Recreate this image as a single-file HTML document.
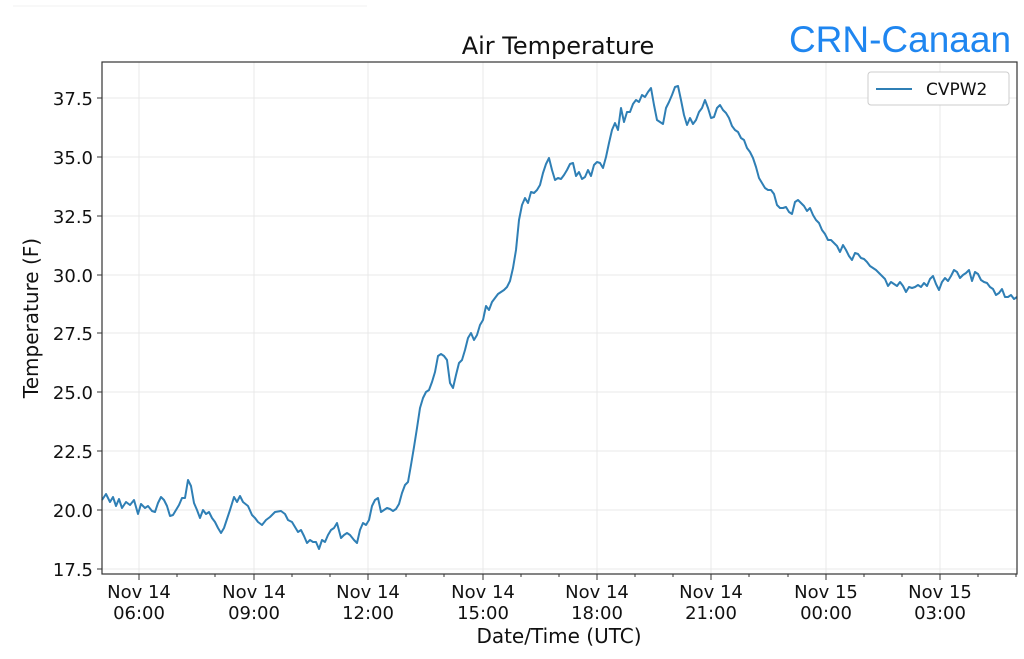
<!DOCTYPE html>
<html><head><meta charset="utf-8"><style>
html,body{margin:0;padding:0;background:#fff;}
svg text{font-family:"DejaVu Sans","Liberation Sans",sans-serif;}
</style></head><body>
<svg width="1024" height="654" viewBox="0 0 1024 654" xmlns="http://www.w3.org/2000/svg">
<line x1="13" y1="6" x2="367" y2="6" stroke="#f0f0f0" stroke-width="1"/>
<text x="558" y="54" font-size="24" text-anchor="middle" fill="#111">Air Temperature</text>
<text x="900" y="52" font-size="37" text-anchor="middle" fill="#1f86f0" style="font-family:'Liberation Sans',sans-serif">CRN-Canaan</text>
<g stroke="#e8e8e8" stroke-width="1">
<line x1="102" y1="569" x2="1017" y2="569"/><line x1="102" y1="510" x2="1017" y2="510"/><line x1="102" y1="451" x2="1017" y2="451"/><line x1="102" y1="392" x2="1017" y2="392"/><line x1="102" y1="333" x2="1017" y2="333"/><line x1="102" y1="275" x2="1017" y2="275"/><line x1="102" y1="216" x2="1017" y2="216"/><line x1="102" y1="157" x2="1017" y2="157"/><line x1="102" y1="98" x2="1017" y2="98"/>
<line x1="139" y1="62" x2="139" y2="574"/><line x1="254" y1="62" x2="254" y2="574"/><line x1="368" y1="62" x2="368" y2="574"/><line x1="483" y1="62" x2="483" y2="574"/><line x1="597" y1="62" x2="597" y2="574"/><line x1="711" y1="62" x2="711" y2="574"/><line x1="826" y1="62" x2="826" y2="574"/><line x1="940" y1="62" x2="940" y2="574"/>
</g>
<polyline fill="none" stroke="#2f7fb5" stroke-width="2" stroke-linejoin="round" points="102,500 106,494 110,502 113,497 116,506 119,499 122,508 126,502 130,505 134,500 138,514 141,504 145,508 148,506 152,511 155,512 158,503 161,497 164,500 167,506 170,516 173,515 176,510 179,505 182,498 185,498 188,480 191,486 194,503 197,510 200,518 203,510 206,514 209,512 212,518 215,522 218,528 221,533 224,528 230,510 234,497 237,502 240,496 243,502 248,506 252,515 255,518 258,522 262,525 266,520 270,517 275,512 281,511 285,514 288,520 292,522 295,527 298,532 301,530 304,536 307,543 310,540 313,542 316,542 319,549 322,540 325,542 328,535 331,530 334,528 337,523 341,538 344,535 347,533 350,535 354,540 357,543 360,530 363,523 366,525 369,520 372,506 375,500 378,498 381,512 384,510 387,508 390,509 393,511 396,509 399,504 402,493 405,485 408,482 411,465 414,447 417,428 420,408 423,398 426,392 429,390 432,382 435,372 438,356 441,354 444,356 447,360 450,383 453,388 456,375 459,363 462,360 465,350 468,338 471,333 474,340 477,335 480,325 483,320 486,306 489,310 492,302 495,298 498,294 501,292 504,290 507,287 510,281 513,268 516,250 519,220 522,205 525,198 528,203 531,192 534,193 537,190 540,185 543,173 546,164 549,158 552,170 555,180 558,178 561,179 564,175 567,170 570,164 573,163 576,176 579,172 582,179 585,177 588,170 591,176 594,165 597,162 600,163 603,168 606,157 609,143 612,130 615,123 618,130 621,108 624,122 627,112 630,112 633,104 636,100 639,102 642,95 645,97 648,92 651,88 654,105 657,120 660,122 663,124 666,108 669,102 672,95 675,87 678,86 681,100 684,115 687,125 690,118 693,124 696,120 699,112 702,108 705,100 708,108 711,118 714,117 717,108 720,105 723,110 726,113 729,118 732,126 735,130 738,132 741,138 744,140 747,148 750,152 753,158 756,167 759,178 762,183 765,188 768,190 771,190 774,194 777,205 780,208 783,208 786,207 789,212 792,214 795,202 798,200 801,203 804,206 807,211 810,208 813,215 816,220 819,223 822,230 825,234 828,240 831,240 834,243 837,246 840,252 843,245 846,250 849,256 852,260 855,253 858,254 861,258 864,259 867,262 870,266 873,268 876,270 879,273 882,276 885,279 888,286 891,282 894,284 897,286 900,282 903,286 906,292 909,287 912,288 915,287 918,285 921,287 924,283 927,286 930,279 933,276 936,284 939,290 942,282 945,278 948,281 951,276 954,270 957,272 960,278 963,275 966,273 969,270 972,281 975,272 978,274 981,280 984,282 987,283 990,287 993,289 996,295 999,293 1002,289 1005,297 1008,297 1011,295 1014,299 1017,297"/>
<rect x="102" y="62" width="915" height="512" fill="none" stroke="#333" stroke-width="1.2"/>
<g stroke="#333" stroke-width="1">
<line x1="97" y1="569" x2="102" y2="569"/><line x1="97" y1="510" x2="102" y2="510"/><line x1="97" y1="451" x2="102" y2="451"/><line x1="97" y1="392" x2="102" y2="392"/><line x1="97" y1="333" x2="102" y2="333"/><line x1="97" y1="275" x2="102" y2="275"/><line x1="97" y1="216" x2="102" y2="216"/><line x1="97" y1="157" x2="102" y2="157"/><line x1="97" y1="98" x2="102" y2="98"/>
<line x1="139" y1="574" x2="139" y2="580"/><line x1="254" y1="574" x2="254" y2="580"/><line x1="368" y1="574" x2="368" y2="580"/><line x1="483" y1="574" x2="483" y2="580"/><line x1="597" y1="574" x2="597" y2="580"/><line x1="711" y1="574" x2="711" y2="580"/><line x1="826" y1="574" x2="826" y2="580"/><line x1="940" y1="574" x2="940" y2="580"/>
<line x1="177" y1="574" x2="177" y2="577"/><line x1="215" y1="574" x2="215" y2="577"/><line x1="292" y1="574" x2="292" y2="577"/><line x1="330" y1="574" x2="330" y2="577"/><line x1="406" y1="574" x2="406" y2="577"/><line x1="444" y1="574" x2="444" y2="577"/><line x1="521" y1="574" x2="521" y2="577"/><line x1="559" y1="574" x2="559" y2="577"/><line x1="635" y1="574" x2="635" y2="577"/><line x1="673" y1="574" x2="673" y2="577"/><line x1="749" y1="574" x2="749" y2="577"/><line x1="788" y1="574" x2="788" y2="577"/><line x1="864" y1="574" x2="864" y2="577"/><line x1="902" y1="574" x2="902" y2="577"/><line x1="978" y1="574" x2="978" y2="577"/><line x1="1016" y1="574" x2="1016" y2="577"/>
</g>
<g font-size="18" fill="#111" text-anchor="end">
<text x="93" y="576">17.5</text><text x="93" y="517">20.0</text><text x="93" y="458">22.5</text><text x="93" y="399">25.0</text><text x="93" y="340">27.5</text><text x="93" y="282">30.0</text><text x="93" y="223">32.5</text><text x="93" y="164">35.0</text><text x="93" y="105">37.5</text>
</g>
<g font-size="18" fill="#111" text-anchor="middle">
<text x="139" y="598">Nov 14</text><text x="139" y="619">06:00</text>
<text x="254" y="598">Nov 14</text><text x="254" y="619">09:00</text>
<text x="368" y="598">Nov 14</text><text x="368" y="619">12:00</text>
<text x="483" y="598">Nov 14</text><text x="483" y="619">15:00</text>
<text x="597" y="598">Nov 14</text><text x="597" y="619">18:00</text>
<text x="711" y="598">Nov 14</text><text x="711" y="619">21:00</text>
<text x="826" y="598">Nov 15</text><text x="826" y="619">00:00</text>
<text x="940" y="598">Nov 15</text><text x="940" y="619">03:00</text>
</g>
<text x="559" y="643" font-size="20" text-anchor="middle" fill="#111">Date/Time (UTC)</text>
<text transform="translate(38,318) rotate(-90)" font-size="20" text-anchor="middle" fill="#111">Temperature (F)</text>
<rect x="868" y="72" width="141" height="33" rx="3" fill="#fff" stroke="#ccc"/>
<line x1="876" y1="89" x2="912" y2="89" stroke="#2f7fb5" stroke-width="2"/>
<text x="926" y="95" font-size="17" fill="#111">CVPW2</text>
</svg>
</body></html>
